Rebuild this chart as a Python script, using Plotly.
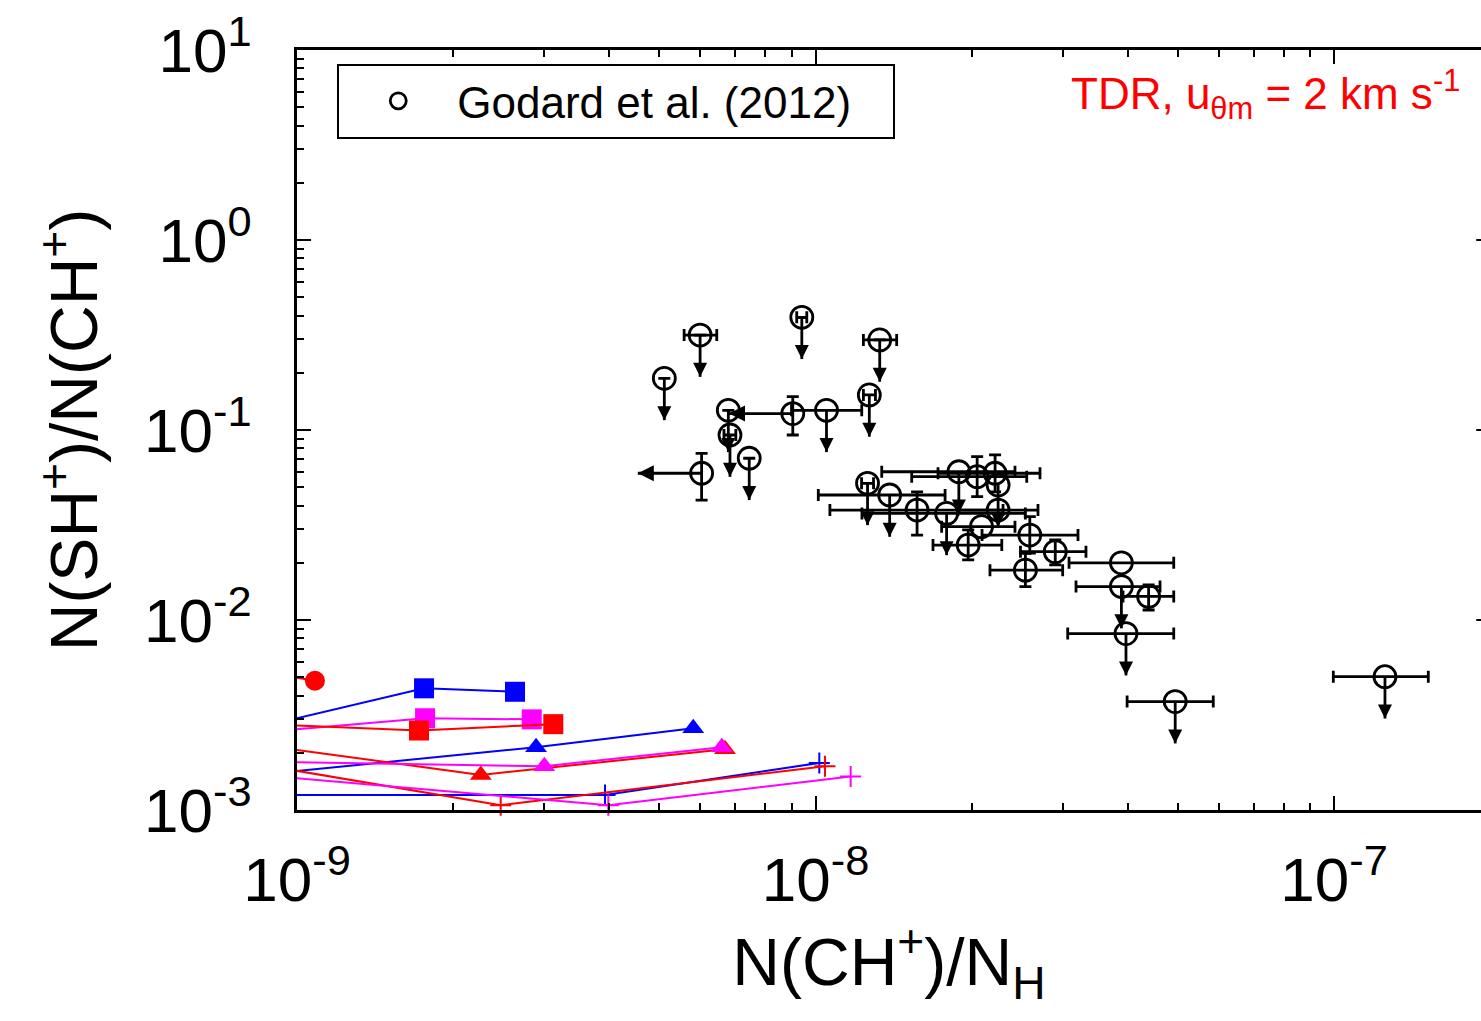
import numpy as np
import plotly.graph_objects as go

nan = np.nan
FONT = "Liberation Sans, Arial, Helvetica, sans-serif"

# ---------------- Godard et al. (2012) ----------------
obs_x = np.array([5.11e-9, 5.99e-9, 9.41e-9, 1.33e-8, 1.27e-8, 6.79e-9, 6.84e-9, 9.04e-9,
                  1.05e-8, 7.45e-9, 6.03e-9, 1.26e-8, 1.39e-8, 1.57e-8, 1.79e-8, 1.89e-8,
                  2.05e-8, 2.22e-8, 2.25e-8, 2.25e-8, 2.09e-8, 1.97e-8, 2.59e-8, 2.90e-8,
                  2.54e-8, 3.89e-8, 3.89e-8, 4.39e-8, 3.97e-8, 4.94e-8, 1.254e-7])
obs_y = np.array([0.187, 0.316, 0.392, 0.298, 0.153, 0.127, 0.0941, 0.122,
                  0.127, 0.0710, 0.0592, 0.0524, 0.0455, 0.0379, 0.0364, 0.0603,
                  0.0568, 0.0592, 0.0513, 0.0379, 0.0310, 0.0248, 0.0280, 0.0229,
                  0.0183, 0.0200, 0.0150, 0.0133, 0.00848, 0.00372, 0.00503])
obs_x_lo = np.array([nan, 5.58e-9, 9.20e-9, 1.237e-8, 1.237e-8, nan, 6.66e-9, nan,
                     8.99e-9, nan, nan, 1.227e-8, 1.0125e-8, 1.066e-8, 1.229e-8, 1.342e-8,
                     1.533e-8, 1.723e-8, nan, 1.883e-8, 1.751e-8, 1.685e-8, 2.095e-8, 2.485e-8,
                     2.17e-8, 3.083e-8, 3.18e-8, 3.918e-8, 3.065e-8, 3.99e-8, 9.97e-8])
obs_x_hi = np.array([nan, 6.45e-9, 9.62e-9, 1.434e-8, 1.305e-8, nan, 7.02e-9, nan,
                     1.228e-8, nan, nan, 1.294e-8, 1.778e-8, 2.30e-8, 2.54e-8, 2.425e-8,
                     2.555e-8, 2.71e-8, nan, 2.686e-8, 2.425e-8, 2.287e-8, 3.208e-8, 3.324e-8,
                     2.997e-8, 4.908e-8, 4.618e-8, 4.908e-8, 4.908e-8, 5.85e-8, 1.52e-7])
obs_y_lo = np.array([0.187, 0.316, 0.392, 0.298, nan, 0.127, nan, 0.0941,
                     nan, 0.0710, 0.0428, nan, nan, 0.0280, nan, nan,
                     0.0446, 0.0473, nan, nan, nan, 0.0207, 0.0225, 0.0195,
                     0.01497, nan, nan, 0.01129, nan, nan, nan])
obs_y_hi = np.array([0.187, 0.316, 0.392, 0.298, nan, 0.127, nan, 0.1497,
                     nan, 0.0710, 0.0754, nan, nan, 0.0473, nan, nan,
                     0.0724, 0.0739, nan, nan, nan, 0.0298, 0.0350, 0.0264,
                     0.02245, nan, nan, 0.01528, nan, nan, nan])
# upper limits on the ratio (down arrows) and on N(CH+)/N_H (left arrows)
obs_upper = np.array([1, 1, 1, 1, 1, 1, 1, 0, 1, 1, 0, 1, 1, 0, 1, 1,
                      0, 0, 1, 0, 0, 0, 0, 0, 0, 0, 1, 0, 1, 1, 1], dtype=bool)
obs_left = np.array([0, 0, 0, 0, 0, 0, 0, 1, 0, 0, 1, 0, 0, 0, 0, 0,
                     0, 0, 0, 0, 0, 0, 0, 0, 0, 0, 0, 0, 0, 0, 0], dtype=bool)

# ---------------- TDR model tracks (u_theta_m = 2 km/s) ----------------
circ_red_x = [8e-10, 1.083e-9]
circ_red_y = [0.0055, 0.00479]

sq_blue_x = [8e-10, 1.758e-9, 2.633e-9]
sq_blue_y = [0.00263, 0.00437, 0.00419]
sq_mag_x = [8e-10, 1.766e-9, 2.836e-9]
sq_mag_y = [0.00252, 0.00304, 0.00300]
sq_red_x = [8e-10, 1.719e-9, 3.121e-9]
sq_red_y = [0.00285, 0.00262, 0.00283]

tri_blue_x = [8e-10, 2.891e-9, 5.81e-9]
tri_blue_y = [0.00151, 0.00214, 0.00269]
tri_mag_x = [8e-10, 2.999e-9, 6.595e-9]
tri_mag_y = [0.00180, 0.00170, 0.00214]
tri_red_x = [8e-10, 2.262e-9, 6.69e-9]
tri_red_y = [0.00225, 0.00153, 0.00209]

cr_blue_x = [8e-10, 3.927e-9, 1.017e-8]
cr_blue_y = [0.00120, 0.00120, 0.00177]
cr_red_x = [8e-10, 2.471e-9, 1.043e-8]
cr_red_y = [0.00178, 0.00106, 0.00170]
cr_mag_x = [8e-10, 3.985e-9, 1.169e-8]
cr_mag_y = [0.00155, 0.00106, 0.00150]

x_tick_vals = [1e-9, 1e-8, 1e-7]
x_tick_text = ["10<sup>-9</sup>", "10<sup>-8</sup>", "10<sup>-7</sup>"]
y_tick_vals = [1e-3, 1e-2, 1e-1, 1e0, 1e1]
y_tick_text = ["10<sup>-3</sup>", "10<sup>-2</sup>", "10<sup>-1</sup>",
               "10<sup>0</sup>", "10<sup>1</sup>"]

BLUE, RED, MAGENTA = "#0000ff", "#ff0000", "#ff00ff"
X_LOG_MAX = -6.7165
DOWN_ARROW_DEX = 0.22    # length of the upper-limit arrows (decades of y)
LEFT_ARROW_DEX = 0.123   # length of the left arrows (decades of x)
BAR_W = 2.8

fig = go.Figure()


def add_track(x, y, color, symbol, size, line_w=0):
    # points left of the frame only carry the line in from the edge
    sizes = [0 if xi < 1e-9 else size for xi in x]
    fig.add_trace(go.Scatter(
        x=x, y=y, mode="lines+markers", showlegend=False, cliponaxis=False,
        line=dict(color=color, width=2),
        marker=dict(symbol=symbol, size=sizes, color=color, opacity=1,
                    line=dict(color=color, width=line_w)),
    ))


add_track(circ_red_x, circ_red_y, RED, "circle", 20)
add_track(sq_blue_x, sq_blue_y, BLUE, "square", 20)
add_track(sq_mag_x, sq_mag_y, MAGENTA, "square", 20)
add_track(sq_red_x, sq_red_y, RED, "square", 20)
add_track(tri_blue_x, tri_blue_y, BLUE, "triangle-up", 19)
add_track(tri_red_x, tri_red_y, RED, "triangle-up", 19)
add_track(tri_mag_x, tri_mag_y, MAGENTA, "triangle-up", 19)
add_track(cr_blue_x, cr_blue_y, BLUE, "cross-thin", 15, 2)
add_track(cr_red_x, cr_red_y, RED, "cross-thin", 15, 2)
add_track(cr_mag_x, cr_mag_y, MAGENTA, "cross-thin", 15, 2)

# upper limits: shaft from the point down to an arrow head
dn_x = obs_x[obs_upper]
dn_y = obs_y[obs_upper]
dn_tip = dn_y * 10 ** (-DOWN_ARROW_DEX)
fig.add_trace(go.Scatter(
    x=dn_x, y=dn_tip, mode="markers", showlegend=False, hoverinfo="skip",
    marker=dict(symbol="arrow-down", size=14, color="black", opacity=1,
                line=dict(width=0)),
    error_y=dict(type="data", symmetric=False, array=dn_y - dn_tip,
                 arrayminus=np.zeros(len(dn_y)), color="black", thickness=BAR_W, width=0),
))

# limits in N(CH+)/N_H: arrows pointing left
lf_x = obs_x[obs_left]
lf_y = obs_y[obs_left]
lf_tip = lf_x * 10 ** (-LEFT_ARROW_DEX)
fig.add_trace(go.Scatter(
    x=lf_tip, y=lf_y, mode="markers", showlegend=False, hoverinfo="skip",
    marker=dict(symbol="arrow-left", size=16, color="black", opacity=1,
                line=dict(width=0)),
    error_x=dict(type="data", symmetric=False, array=lf_x - lf_tip,
                 arrayminus=np.zeros(len(lf_x)), color="black", thickness=BAR_W, width=0),
))

# observations with error bars
fig.add_trace(go.Scatter(
    x=obs_x, y=obs_y, mode="markers", name="Godard et al. (2012)\u00a0\u00a0\u00a0",
    marker=dict(symbol="circle-open", size=22, color="black", opacity=1,
                line=dict(color="black", width=2.8)),
    error_x=dict(type="data", symmetric=False, array=obs_x_hi - obs_x,
                 arrayminus=obs_x - obs_x_lo, color="black", thickness=BAR_W, width=6),
    error_y=dict(type="data", symmetric=False, array=obs_y_hi - obs_y,
                 arrayminus=obs_y - obs_y_lo, color="black", thickness=BAR_W, width=6),
))

fig.add_annotation(
    x=0.984, y=0.941, xref="paper", yref="paper", xanchor="right", yanchor="middle",
    text="TDR, u<sub>θm</sub> = 2 km s<sup>-1</sup>", showarrow=False,
    font=dict(family=FONT, size=44, color=RED),
)

minor_x = [k * 10.0 ** e for e in (-9, -8, -7) for k in range(2, 10)]
minor_y = [k * 10.0 ** e for e in (-3, -2, -1, 0) for k in range(2, 10)]

fig.update_xaxes(
    type="log", range=[-9, X_LOG_MAX], tickvals=x_tick_vals, ticktext=x_tick_text,
    ticks="inside", ticklen=14, tickwidth=2, tickcolor="black",
    showline=True, linewidth=3, linecolor="black", mirror="allticks",
    showgrid=False, zeroline=False,
    minor=dict(tickvals=minor_x, ticks="inside", ticklen=7, tickwidth=2,
               tickcolor="black", showgrid=False),
    tickfont=dict(family=FONT, size=62, color="black"), ticklabelstandoff=14,
    title=dict(text="N(CH<sup>+</sup>)/N<sub>H</sub>", standoff=26,
               font=dict(family=FONT, size=66, color="black")),
)
fig.update_yaxes(
    type="log", range=[-3, 1], tickvals=y_tick_vals, ticktext=y_tick_text,
    ticks="inside", ticklen=14, tickwidth=2, tickcolor="black",
    showline=True, linewidth=3, linecolor="black", mirror=False,
    showgrid=False, zeroline=False,
    minor=dict(tickvals=minor_y, ticks="inside", ticklen=7, tickwidth=2,
               tickcolor="black", showgrid=False),
    tickfont=dict(family=FONT, size=62, color="black"), ticklabelstandoff=30,
    title=dict(text="N(SH<sup>+</sup>)/N(CH<sup>+</sup>)", standoff=25,
               font=dict(family=FONT, size=66, color="black")),
)

# short major ticks on the right-hand edge of the frame
for yv in y_tick_vals[1:-1]:
    fig.add_shape(type="line", xref="paper", yref="y", x0=0.996, x1=1.0,
                  y0=yv, y1=yv, line=dict(color="black", width=2))

fig.update_layout(
    width=1481, height=1021,
    margin=dict(l=297, r=0, t=50, b=211, autoexpand=False),
    paper_bgcolor="white", plot_bgcolor="white",
    font=dict(family=FONT, color="black"),
    legend=dict(x=0.034, y=0.982, xanchor="left", yanchor="top",
                bordercolor="black", borderwidth=2, bgcolor="white",
                font=dict(family=FONT, size=44, color="black"), itemwidth=108),
)

fig.write_html("out.html")
